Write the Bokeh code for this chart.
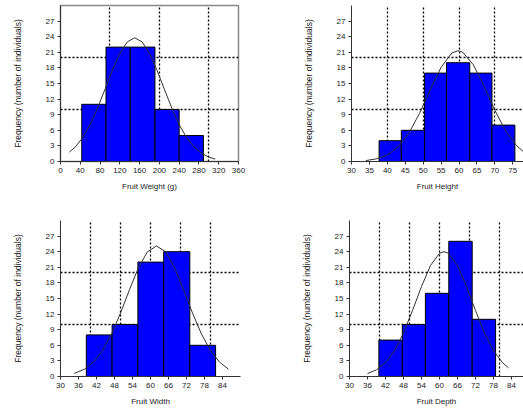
from bokeh.plotting import figure
from bokeh.layouts import column, row
from bokeh.models import Range1d, FixedTicker
from bokeh.embed import file_html
from bokeh.resources import INLINE

# ---- data ----
y_ticks = [0, 3, 6, 9, 12, 15, 18, 21, 24, 27]
y_label = "Frequency (number of individuals)"

# Panel 1: Fruit Weight (g)
w_edges = [43, 92, 141, 191, 240, 289]
w_counts = [11, 22, 22, 10, 5]
w_curve_x = [18, 30, 45, 60, 75, 90, 105, 120, 135, 150, 165, 180, 195, 210, 225, 240, 255, 270, 285, 300, 313]
w_curve_y = [1.8, 2.8, 4.6, 7.1, 10.3, 13.9, 17.6, 20.8, 23.0, 23.8, 23.0, 20.8, 17.6, 13.9, 10.3, 7.1, 4.6, 2.8, 1.6, 0.84, 0.46]
w_xticks = [0, 40, 80, 120, 160, 200, 240, 280, 320, 360]
w_xgrid = [100, 200, 300]

# Panel 2: Fruit Height
h_edges = [37.7, 43.9, 50.4, 56.5, 63.0, 69.2, 75.6]
h_counts = [4, 6, 17, 19, 17, 7]
h_curve_x = [34, 37, 40, 43, 46, 49, 52, 55, 58, 59.7, 61, 64, 67, 70, 73, 76, 78]
h_curve_y = [0.18, 0.51, 1.27, 2.81, 5.45, 9.28, 13.85, 18.1, 20.86, 21.3, 21.04, 18.6, 14.46, 9.86, 5.9, 3.1, 1.87]
h_xticks = [30, 35, 40, 45, 50, 55, 60, 65, 70, 75]
h_xgrid = [40, 50, 60, 70]

# Panel 3: Fruit Width
wd_edges = [38.6, 47.2, 55.8, 64.4, 73.1, 81.7]
wd_counts = [8, 10, 22, 24, 6]
wd_curve_x = [34.6, 38, 41, 44, 47, 50, 53, 56, 59, 62, 65, 68, 71, 74, 77, 80, 83, 86]
wd_curve_y = [0.59, 1.41, 2.77, 4.97, 8.15, 12.2, 16.7, 20.97, 24.0, 25.1, 24.0, 20.97, 16.7, 12.2, 8.15, 4.97, 2.77, 1.41]
wd_xticks = [30, 36, 42, 48, 54, 60, 66, 72, 78, 84]
wd_xgrid = [40, 50, 60, 70, 80, 90]

# Panel 4: Fruit Depth
d_edges = [39.8, 47.6, 55.3, 63.1, 70.9, 78.7]
d_counts = [7, 10, 16, 26, 11]
d_curve_x = [36, 39, 42, 45, 48, 51, 54, 57, 60, 61.5, 63, 66, 69, 72, 75, 78, 81, 83]
d_curve_y = [0.56, 1.29, 2.67, 4.97, 8.37, 12.7, 17.3, 21.35, 23.7, 24.0, 23.7, 21.35, 17.3, 12.7, 8.37, 4.97, 2.67, 1.66]
d_xticks = [30, 36, 42, 48, 54, 60, 66, 72, 78, 84]
d_xgrid = [40, 50, 60, 70, 80]

FONT = "Liberation Sans"


def panel(edges, counts, cx, cy, xr, xticks, xgrid, ygrid, xlabel,
          fw, fh, bl, br, bt, bb, outline=False):
    p = figure(frame_width=fw, frame_height=fh,
               x_range=Range1d(*xr), y_range=Range1d(0, 30),
               output_backend="svg", toolbar_location=None,
               min_border_left=bl, min_border_right=br,
               min_border_top=bt, min_border_bottom=bb)
    p.background_fill_color = "white"
    p.border_fill_color = "white"
    if outline:
        p.outline_line_color = "#888888"
        p.outline_line_width = 1.5
    else:
        p.outline_line_color = None

    # grids
    p.xgrid.ticker = FixedTicker(ticks=xgrid)
    p.ygrid.ticker = FixedTicker(ticks=ygrid)
    for g in (p.xgrid, p.ygrid):
        g.grid_line_color = "black"
        g.grid_line_dash = "2 2"
        g.grid_line_width = 1.3
        g.grid_line_alpha = 1.0

    p.quad(left=edges[:-1], right=edges[1:], top=counts, bottom=0,
           fill_color="#0000FF", line_color="black", line_width=1)
    p.line(cx, cy, line_color="#333333", line_width=1)

    p.xaxis.ticker = FixedTicker(ticks=xticks)
    p.yaxis.ticker = FixedTicker(ticks=y_ticks)
    for ax in (p.xaxis, p.yaxis):
        ax.axis_line_color = "#333333"
        ax.axis_line_width = 1
        ax.major_tick_line_color = "#333333"
        ax.major_tick_out = 3
        ax.major_tick_in = 0
        ax.minor_tick_line_color = None
        ax.major_label_text_font = FONT
        ax.major_label_text_font_size = "8px"
        ax.major_label_text_color = "#222222"
        ax.axis_label_text_font = FONT
        ax.axis_label_text_font_style = "normal"
        ax.axis_label_text_color = "#222222"
        ax.major_label_standoff = 3
    p.xaxis.axis_label = xlabel
    p.xaxis.axis_label_text_font_size = "8px"
    p.xaxis.axis_label_standoff = 6
    p.yaxis.axis_label = y_label
    p.yaxis.axis_label_text_font_size = "8.5px"
    p.yaxis.axis_label_standoff = 20
    return p


p1 = panel(w_edges, w_counts, w_curve_x, w_curve_y, (0, 360), w_xticks, w_xgrid,
           [10, 20], "Fruit Weight (g)", 178, 156, 60, 52, 5, 40, outline=True)
p2 = panel(h_edges, h_counts, h_curve_x, h_curve_y, (30, 78), h_xticks, h_xgrid,
           [10, 20, 30], "Fruit Height", 172, 156, 61, 0, 5, 40)
p3 = panel(wd_edges, wd_counts, wd_curve_x, wd_curve_y, (30, 90), wd_xticks, wd_xgrid,
           [10, 20], "Fruit Width", 180, 156, 60, 50, 19, 36)
p4 = panel(d_edges, d_counts, d_curve_x, d_curve_y, (30, 88), d_xticks, d_xgrid,
           [10, 20], "Fruit Depth", 174, 156, 59, 0, 19, 36)

layout = column(row(p1, p2, spacing=0), row(p3, p4, spacing=0), spacing=0)

open("out.html", "w").write(file_html(layout, INLINE))
